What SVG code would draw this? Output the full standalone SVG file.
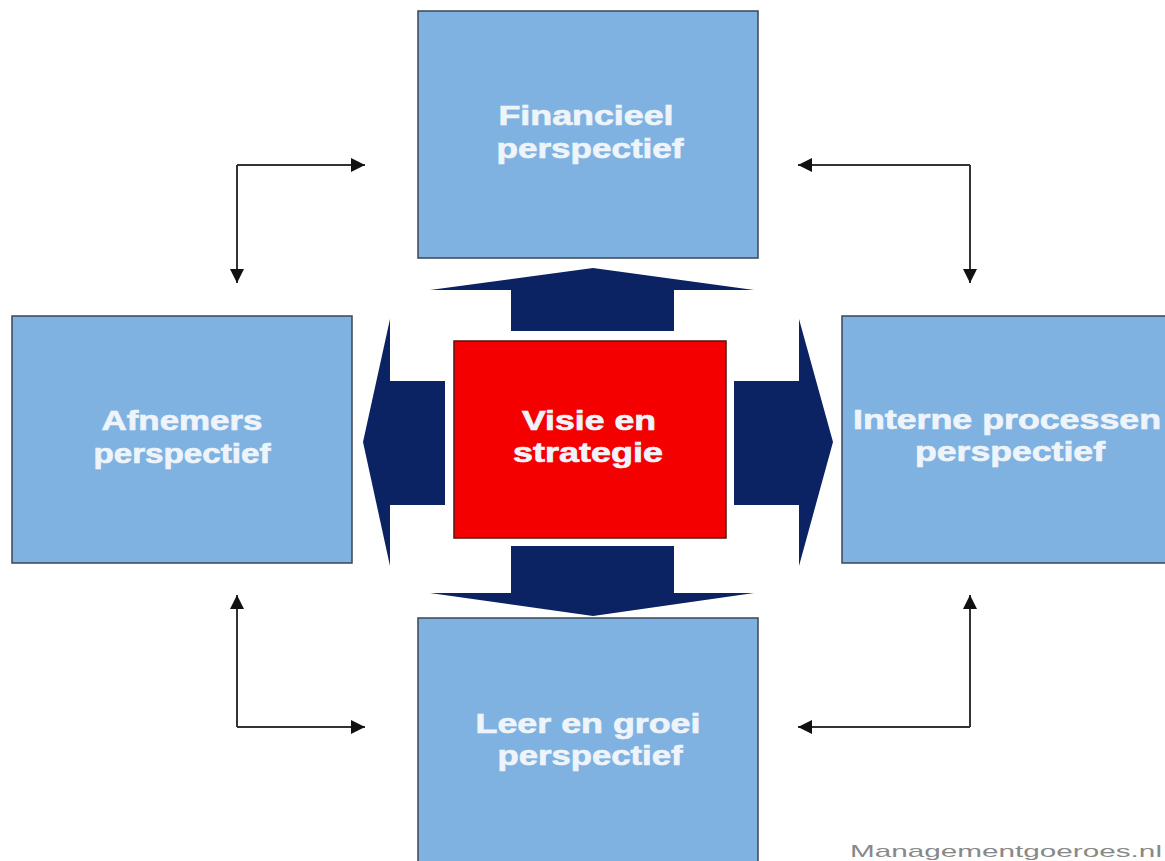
<svg xmlns="http://www.w3.org/2000/svg" width="1165" height="861" viewBox="0 0 1165 861">
<defs>
<style>
.box{fill:#7fb2e1;stroke:#3a4656;stroke-width:1.5}
.lbl{font-family:"Liberation Sans",Arial,sans-serif;font-weight:bold;font-size:28px;fill:#eef4fa;stroke:#eef4fa;stroke-width:0.7;text-anchor:middle}
.big{fill:#0b2263}
.con{fill:none;stroke:#333;stroke-width:2}
</style>
<marker id="ah" viewBox="0 0 10 10" refX="10" refY="5" markerWidth="8" markerHeight="7" markerUnits="strokeWidth" orient="auto">
<path d="M0,0 L10,5 L0,10 z" fill="#111"/>
</marker>
</defs>
<rect width="1165" height="861" fill="#fff"/>
<g id="arrows">
<polygon class="big" points="430,290 593,268 754,290 674,290 674,331 511,331 511,290"/>
<polygon class="big" points="430,593 511,593 511,546 674,546 674,593 754,593 593,616"/>
<polygon class="big" points="390,319 390,381 445,381 445,505 390,505 390,566 363,442"/>
<polygon class="big" points="799,319 833,442 799,566 799,505 734,505 734,381 799,381"/>
</g>
<g id="connectors">
<path class="con" d="M237,165 L365,165" marker-end="url(#ah)"/>
<path class="con" d="M237,165 L237,283" marker-end="url(#ah)"/>
<path class="con" d="M970,165 L798,165" marker-end="url(#ah)"/>
<path class="con" d="M970,165 L970,283" marker-end="url(#ah)"/>
<path class="con" d="M237,727 L237,595" marker-end="url(#ah)"/>
<path class="con" d="M237,727 L365,727" marker-end="url(#ah)"/>
<path class="con" d="M970,727 L970,595" marker-end="url(#ah)"/>
<path class="con" d="M970,727 L798,727" marker-end="url(#ah)"/>
</g>
<g id="financieel">
<rect class="box" x="418" y="11" width="340" height="247"/>
<text class="lbl" x="586" y="125" textLength="175" lengthAdjust="spacingAndGlyphs">Financieel</text>
<text class="lbl" x="590" y="158" textLength="187" lengthAdjust="spacingAndGlyphs">perspectief</text>
</g>
<g id="afnemers">
<rect class="box" x="12" y="316" width="340" height="247"/>
<text class="lbl" x="182" y="430" textLength="161" lengthAdjust="spacingAndGlyphs">Afnemers</text>
<text class="lbl" x="182" y="463" textLength="177" lengthAdjust="spacingAndGlyphs">perspectief</text>
</g>
<g id="interne">
<rect class="box" x="842" y="316" width="340" height="247"/>
<text class="lbl" x="1007" y="429" textLength="308" lengthAdjust="spacingAndGlyphs">Interne processen</text>
<text class="lbl" x="1010" y="461" textLength="190" lengthAdjust="spacingAndGlyphs">perspectief</text>
</g>
<g id="leer">
<rect class="box" x="418" y="618" width="340" height="260"/>
<text class="lbl" x="588" y="733" textLength="225" lengthAdjust="spacingAndGlyphs">Leer en groei</text>
<text class="lbl" x="590" y="765" textLength="185" lengthAdjust="spacingAndGlyphs">perspectief</text>
</g>
<g id="visie">
<rect x="454" y="341" width="272" height="197" fill="#f40000" stroke="#5a1010" stroke-width="1.5"/>
<text class="lbl" x="589" y="430" textLength="134" lengthAdjust="spacingAndGlyphs">Visie en</text>
<text class="lbl" x="588" y="462" textLength="150" lengthAdjust="spacingAndGlyphs">strategie</text>
</g>
<text x="850" y="857" font-family="'Liberation Sans',Arial,sans-serif" font-size="17" fill="#888" textLength="312" lengthAdjust="spacingAndGlyphs">Managementgoeroes.nl</text>
</svg>
